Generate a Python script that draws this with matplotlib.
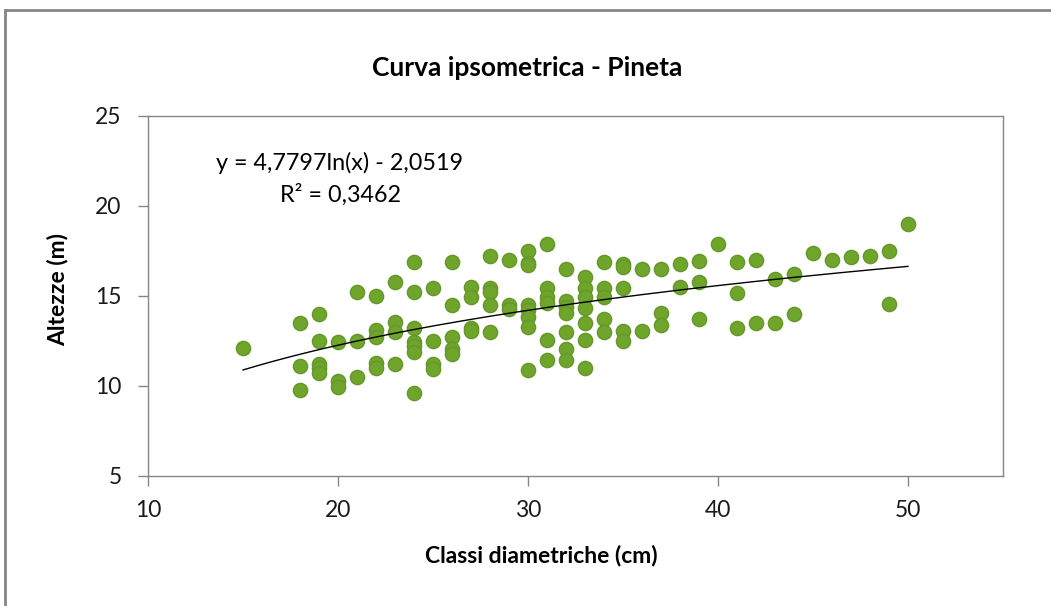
import numpy as np
import matplotlib
matplotlib.use("Agg")
import matplotlib.pyplot as plt
from matplotlib.patches import Rectangle

plt.rcParams['font.family'] = ['Lato', 'DejaVu Sans']

# Diameter classes (cm) and heights (m)
diam = [15,
        18, 18, 18,
        19, 19, 19, 19, 19,
        20, 20, 20,
        21, 21, 21,
        22, 22, 22, 22, 22,
        23, 23, 23, 23,
        24, 24, 24, 24, 24, 24, 24,
        25, 25, 25, 25,
        26, 26, 26, 26, 26,
        27, 27, 27, 27,
        28, 28, 28, 28, 28,
        29, 29, 29,
        30, 30, 30, 30, 30, 30, 30, 30,
        31, 31, 31, 31, 31, 31,
        32, 32, 32, 32, 32, 32, 32,
        33, 33, 33, 33, 33, 33, 33,
        34, 34, 34, 34, 34,
        35, 35, 35, 35, 35,
        36, 36,
        37, 37, 37,
        38, 38,
        39, 39, 39,
        40,
        41, 41, 41,
        42, 42,
        43, 43,
        44, 44,
        45, 46, 47, 48,
        49, 49,
        50]
height = [12.1,
          13.5, 11.1, 9.8,
          14.0, 12.5, 11.25, 11.0, 10.7,
          12.45, 10.3, 9.95,
          15.2, 12.5, 10.5,
          15.0, 13.1, 12.75, 11.3, 11.0,
          15.8, 13.55, 13.0, 11.2,
          16.9, 15.2, 13.2, 12.45, 12.2, 11.9, 9.6,
          15.45, 12.5, 11.25, 10.95,
          16.9, 14.5, 12.7, 12.05, 11.8,
          15.5, 14.95, 13.25, 13.05,
          17.2, 15.45, 15.2, 14.5, 13.0,
          17.0, 14.5, 14.3,
          17.5, 16.85, 16.7, 14.5, 14.2, 13.85, 13.3, 10.9,
          17.9, 15.45, 14.95, 14.6, 12.55, 11.45,
          16.5, 14.7, 14.4, 14.05, 13.0, 12.05, 11.45,
          16.05, 15.45, 14.95, 14.35, 13.5, 12.55, 11.0,
          16.9, 15.45, 14.95, 13.7, 13.0,
          16.8, 16.6, 15.45, 13.05, 12.5,
          16.5, 13.05,
          16.5, 14.05, 13.4,
          16.8, 15.5,
          16.95, 15.8, 13.7,
          17.9,
          16.9, 15.15, 13.2,
          17.0, 13.5,
          15.95, 13.5,
          16.2, 14.0,
          17.4, 17.0, 17.15, 17.2,
          17.5, 14.55,
          19.0]

# Logarithmic trend line coefficients (from the chart)
coef_a = 4.7797
coef_b = -2.0519

title = "Curva ipsometrica - Pineta"
xlabel = "Classi diametriche (cm)"
ylabel = "Altezze (m)"
eq_text = "y = 4,7797ln(x) - 2,0519"
r2_text = "R² = 0,3462"
xticks = [10, 20, 30, 40, 50]
yticks = [5, 10, 15, 20, 25]

W, H = 1051, 606
fig = plt.figure(figsize=(W / 100, H / 100), dpi=100)
ax = fig.add_axes([148 / W, 1 - 476 / H, (1003 - 148) / W, (476 - 116) / H])

ax.scatter(diam, height, s=105, color='#6fa52b', edgecolors='#64982a',
           linewidths=1.0, zorder=3)

xs = np.linspace(min(diam), max(diam), 200)
ax.plot(xs, coef_a * np.log(xs) + coef_b, color='black', lw=1.0, zorder=4)

ax.set_xlim(10, 55)
ax.set_ylim(5, 25)
ax.set_xticks(xticks)
ax.set_yticks(yticks)
ax.tick_params(axis='both', direction='out', length=7, width=1,
               color='#868686', labelsize=16.5, labelcolor='#1a1a1a')
ax.tick_params(axis='x', pad=10)
ax.tick_params(axis='y', pad=12)
for s in ax.spines.values():
    s.set_color('#868686')
    s.set_linewidth(1)

ax.set_xlabel(xlabel, fontsize=16.5, fontweight='bold', va='center')
ax.xaxis.set_label_coords((541 - 148) / 855, (476 - 555) / 360)

fig.text(58 / W, 1 - 290 / H, ylabel, fontsize=16.5, fontweight='bold',
         rotation=90, ha='center', va='center')

fig.text(527 / W, 1 - 68 / H, title, fontsize=19, fontweight='bold',
         ha='center', va='center')

ax.text(10 + (340 - 148) / 19, 5 + (476 - 163) / 18, eq_text, fontsize=16.8,
        ha='center', va='center')
ax.text(10 + (341 - 148) / 19, 5 + (476 - 195) / 18, r2_text, fontsize=16.8,
        ha='center', va='center')

# outer chart border
fig.patches.append(Rectangle((5 / W, -0.05), 1.1, 1 - 10 / H + 0.05,
                             transform=fig.transFigure, fill=False,
                             edgecolor='#868686', lw=2))

fig.savefig("out.png", dpi=100)
